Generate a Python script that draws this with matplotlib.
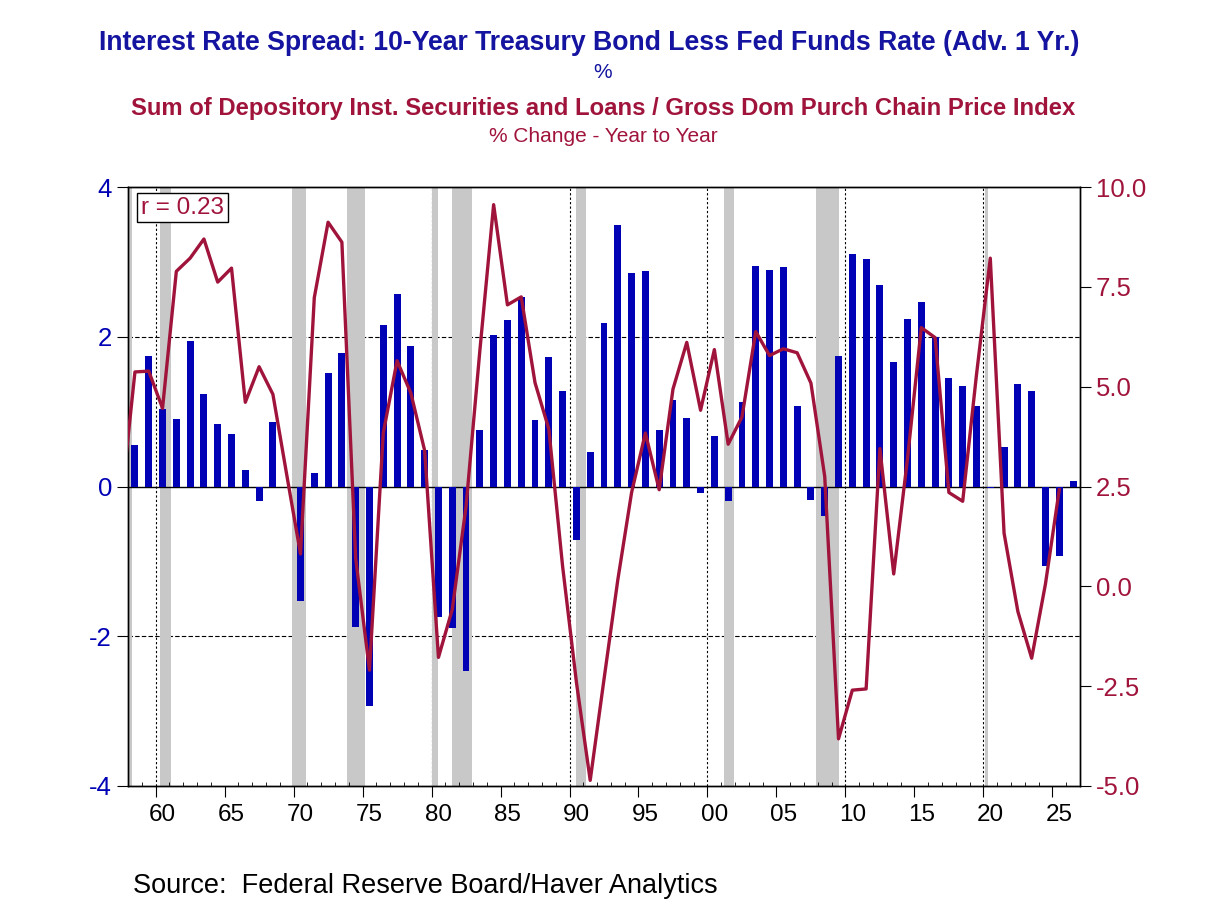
import numpy as np
import matplotlib.pyplot as plt
from matplotlib.transforms import ScaledTranslation

plt.rcParams['font.family'] = ['Liberation Sans', 'DejaVu Sans']
plt.rcParams['axes.unicode_minus'] = False

BLUE = '#0000b4'
TITLE_BLUE = '#1414a0'
RED = '#a0143c'

# spread, annual, plotted mid-year
bar_years = list(range(1958, 2027))
spread = [0.56, 1.75, 1.03, 0.90, 1.94, 1.24, 0.83, 0.70, 0.22, -0.19,
          0.86, -0.01, -1.53, 0.18, 1.51, 1.78, -1.87, -2.93, 2.16, 2.57,
          1.88, 0.49, -1.74, -1.89, -2.46, 0.76, 2.02, 2.22, 2.53, 0.89,
          1.73, 1.28, -0.72, 0.46, 2.18, 3.50, 2.85, 2.88, 0.76, 1.15,
          0.91, -0.08, 0.68, -0.20, 1.13, 2.94, 2.89, 2.93, 1.08, -0.18,
          -0.40, 1.75, 3.10, 3.04, 2.69, 1.67, 2.24, 2.46, 2.00, 1.45,
          1.34, 1.08, -0.02, 0.53, 1.37, 1.28, -1.06, -0.93, 0.08]

# real credit growth, % y/y
line_years = list(range(1957, 2026))
credit = [2.1, 5.37, 5.39, 4.46, 7.89, 8.22, 8.70, 7.62, 7.97, 4.61,
          5.50, 4.81, 2.8, 0.81, 7.23, 9.12, 8.62, 0.7, -2.1, 3.84,
          5.65, 4.84, 3.40, -1.78, -0.58, 2.0, 5.9, 9.56, 7.05, 7.25,
          5.10, 3.94, 0.5, -2.4, -4.86, -2.33, 0.16, 2.35, 3.84, 2.42,
          4.94, 6.11, 4.41, 5.93, 3.56, 4.24, 6.38, 5.78, 5.95, 5.85,
          5.09, 2.75, -3.82, -2.60, -2.57, 3.45, 0.31, 3.2, 6.48, 6.23,
          2.35, 2.13, 5.3, 8.22, 1.33, -0.63, -1.80, 0.06, 2.42]

recessions = [(1957.6, 1958.3), (1960.3, 1961.1), (1969.9, 1970.9),
              (1973.9, 1975.2), (1980.0, 1980.5), (1981.5, 1982.9),
              (1990.5, 1991.2), (2001.2, 2001.9), (2007.9, 2009.5),
              (2020.1, 2020.3)]

xticks = list(range(1960, 2026, 5))
xlabels = ['60', '65', '70', '75', '80', '85', '90', '95',
           '00', '05', '10', '15', '20', '25']

fig = plt.figure(figsize=(12.08, 9.06), dpi=100)
ax = fig.add_axes([0.106, 0.1325, 0.788, 0.661])

for s, e in recessions:
    ax.axvspan(s, e, color='#c8c8c8', lw=0, zorder=1)
for d in range(1960, 2030, 10):
    ax.axvline(d, color='black', lw=0.8, ls=(0, (2, 2)), zorder=0.5)
for g in (-2, 2):
    ax.axhline(g, color='black', lw=0.8, ls=(0, (4, 2)), zorder=0.5)

ax.bar(np.array(bar_years) + 0.5, spread, width=0.5, color=BLUE, zorder=3)
ax.axhline(0, color='black', lw=1.0, zorder=2.5)

ax.set_xlim(1958, 2027)
ax.set_ylim(-4, 4)
ax.set_yticks([-4, -2, 0, 2, 4])
ax.set_yticklabels(['-4', '-2', '0', '2', '4'])
ax.tick_params(axis='y', colors='black', labelcolor=BLUE, labelsize=18.5,
               length=8, direction='out')
ax.set_xticks(xticks)
ax.set_xticklabels(xlabels)
ax.set_xticks(range(1958, 2028), minor=True)
ax.tick_params(axis='x', which='major', length=8, direction='out', labelsize=17.5, pad=5)
ax.tick_params(axis='x', which='minor', length=3, direction='in')
for lab in ax.get_xticklabels():
    lab.set_transform(lab.get_transform() + ScaledTranslation(0.07, 0, fig.dpi_scale_trans))

ax2 = ax.twinx()
ax2.plot(np.array(line_years) + 0.5, credit, color=RED, lw=2.4, zorder=5)
ax2.set_ylim(-5, 10)
ax2.set_yticks(np.arange(-5, 10.1, 2.5))
ax2.set_yticklabels([f'{v:.1f}' for v in np.arange(-5, 10.1, 2.5)])
ax2.tick_params(axis='y', colors='black', labelcolor=RED, labelsize=18.5,
                length=8, direction='out')
for a in (ax, ax2):
    for sp in a.spines.values():
        sp.set_linewidth(1.0)

ax2.text(0.0137, 0.984, 'r = 0.23', transform=ax2.transAxes, color=RED,
         fontsize=17.5, va='top', ha='left', zorder=10,
         bbox=dict(boxstyle='square,pad=0.15', fc='white', ec='black', lw=1))

fig.text(0.4875, 0.9525, 'Interest Rate Spread: 10-Year Treasury Bond Less Fed Funds Rate (Adv. 1 Yr.)',
         ha='center', va='center', color=TITLE_BLUE, fontsize=19.2, fontweight='bold')
fig.text(0.4985, 0.9205, '%', ha='center', va='center', color=TITLE_BLUE, fontsize=15)
fig.text(0.4995, 0.8797, 'Sum of Depository Inst. Securities and Loans / Gross Dom Purch Chain Price Index',
         ha='center', va='center', color=RED, fontsize=17.2, fontweight='bold')
fig.text(0.4995, 0.8488, '% Change - Year to Year', ha='center', va='center',
         color=RED, fontsize=15)
fig.text(0.110, 0.022, 'Source:  Federal Reserve Board/Haver Analytics',
         ha='left', va='center', color='black', fontsize=19.5)

fig.savefig('out.png', dpi=100)
